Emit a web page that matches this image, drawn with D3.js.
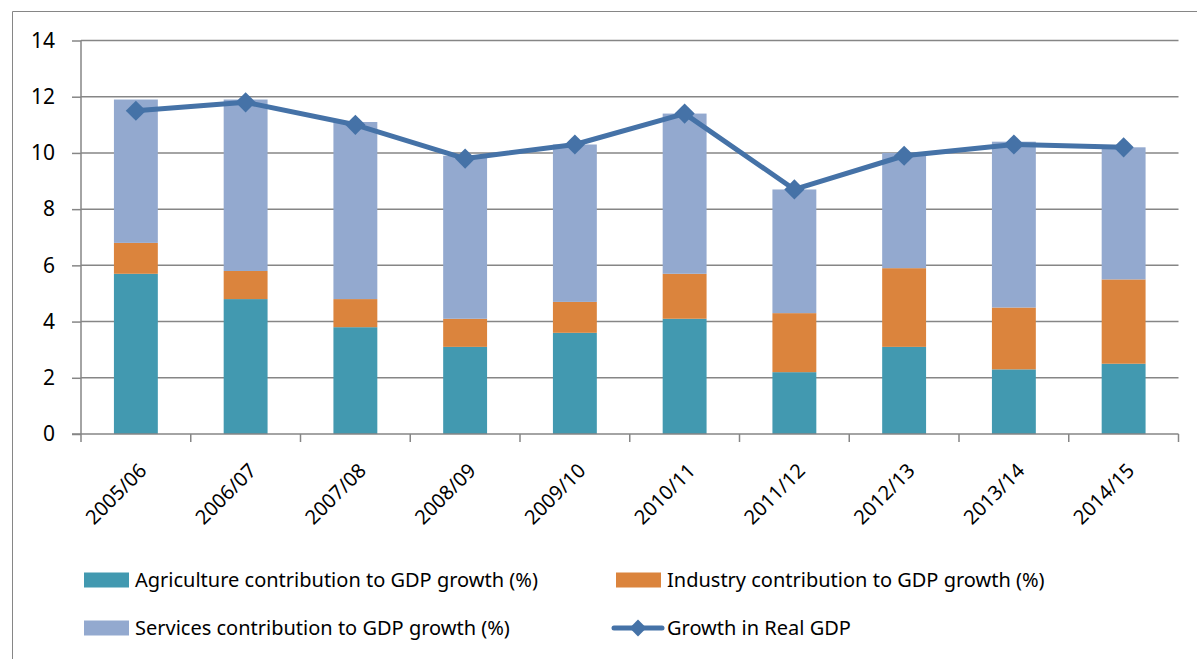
<!DOCTYPE html>
<html>
<head>
<meta charset="utf-8">
<script src="https://cdn.jsdelivr.net/npm/d3@7"></script>
<style>
  body { margin: 0; background: #fff; }
  svg { display: block; font-family: "Noto Sans", sans-serif; }
</style>
</head>
<body>
<script>
// values
var years = ["2005/06", "2006/07", "2007/08", "2008/09", "2009/10",
             "2010/11", "2011/12", "2012/13", "2013/14", "2014/15"];
var agriculture = [5.7, 4.8, 3.8, 3.1, 3.6, 4.1, 2.2, 3.1, 2.3, 2.5];
var industry    = [1.1, 1.0, 1.0, 1.0, 1.1, 1.6, 2.1, 2.8, 2.2, 3.0];
var services    = [5.1, 6.1, 6.3, 5.8, 5.6, 5.7, 4.4, 4.1, 5.9, 4.7];
var realGdp     = [11.5, 11.8, 11.0, 9.8, 10.3, 11.4, 8.7, 9.9, 10.3, 10.2];
var yTicks = [0, 2, 4, 6, 8, 10, 12, 14];

var seriesNames = ["Agriculture contribution to GDP growth (%)",
                   "Industry contribution to GDP growth (%)",
                   "Services contribution to GDP growth (%)",
                   "Growth in Real GDP"];
var colors = ["#4299B0", "#DB843D", "#93A9CF", "#4572A7"];

var W = 1197, H = 659;
var svg = d3.select("body").append("svg").attr("width", W).attr("height", H);

// outer chart border (cut off at right and bottom in the original)
svg.append("path")
    .attr("d", "M12.5," + H + "V11.5H" + W)
    .attr("fill", "none").attr("stroke", "#868686").attr("stroke-width", 1);

var margin = {left: 81, top: 40.5, right: 1178.5, bottom: 434};

var x = d3.scaleBand().domain(years).range([margin.left, margin.right]).paddingInner(0.6).paddingOuter(0.3);
var xBand = d3.scaleBand().domain(years).range([margin.left, margin.right]);
var y = d3.scaleLinear().domain([0, 14]).range([margin.bottom, margin.top]);

// gridlines
svg.append("g").selectAll("line").data(yTicks.filter(function(d) { return d > 0; })).enter()
  .append("line")
    .attr("x1", margin.left).attr("x2", margin.right)
    .attr("y1", function(d) { return y(d); }).attr("y2", function(d) { return y(d); })
    .attr("stroke", "#868686").attr("stroke-width", 1.5);

// stacked bars
var table = years.map(function(yr, i) {
  return {year: yr, agriculture: agriculture[i], industry: industry[i], services: services[i]};
});
var stack = d3.stack().keys(["agriculture", "industry", "services"])(table);

svg.append("g").selectAll("g").data(stack).enter()
  .append("g").attr("fill", function(d, i) { return colors[i]; })
  .selectAll("rect").data(function(d) { return d; }).enter()
  .append("rect")
    .attr("x", function(d) { return x(d.data.year); })
    .attr("width", x.bandwidth())
    .attr("y", function(d) { return y(d[1]); })
    .attr("height", function(d) { return y(d[0]) - y(d[1]); });

// y axis
var yAxis = svg.append("g")
    .attr("transform", "translate(" + margin.left + ",0)")
    .call(d3.axisLeft(y).tickValues(yTicks).tickSize(9).tickPadding(17).tickFormat(d3.format("d")));
yAxis.selectAll("line").attr("stroke", "#868686").attr("stroke-width", 1.5);
yAxis.select(".domain").attr("stroke", "#868686").attr("stroke-width", 1.5).attr("d", "M0," + margin.top + "V" + margin.bottom);
yAxis.selectAll("text").attr("font-size", 21).attr("fill", "#000").attr("font-family", "Noto Sans");

// x axis with ticks at band boundaries
var xAxis = svg.append("g").attr("transform", "translate(0," + margin.bottom + ")");
xAxis.append("line").attr("x1", margin.left - 9).attr("x2", margin.right)
    .attr("stroke", "#868686").attr("stroke-width", 1.5);
var edges = years.map(function(d) { return xBand(d); }).concat([margin.right]);
xAxis.selectAll(".tk").data(edges).enter().append("line")
    .attr("x1", function(d) { return d; }).attr("x2", function(d) { return d; })
    .attr("y1", 0).attr("y2", 8)
    .attr("stroke", "#868686").attr("stroke-width", 1.5);
xAxis.selectAll("text").data(years).enter().append("text")
    .attr("transform", function(d) {
      return "translate(" + (xBand(d) + xBand.bandwidth() / 2 + 12) + ",38) rotate(-45)";
    })
    .attr("text-anchor", "end")
    .attr("font-size", 20)
    .text(function(d) { return d; });

// real GDP line
var cx = function(d, i) { return xBand(years[i]) + xBand.bandwidth() / 2; };
var line = d3.line().x(cx).y(function(d) { return y(d); });
svg.append("path").datum(realGdp)
    .attr("d", line).attr("fill", "none")
    .attr("stroke", colors[3]).attr("stroke-width", 5).attr("stroke-linejoin", "round");

var diamond = d3.symbol().type(d3.symbolDiamond2).size(260);
svg.append("g").selectAll("path").data(realGdp).enter().append("path")
    .attr("d", diamond)
    .attr("transform", function(d, i) { return "translate(" + cx(d, i) + "," + y(d) + ")"; })
    .attr("fill", colors[3]);

// legend
var legendPos = [[84, 580], [616, 580], [84, 628], [616, 628]];
var legend = svg.append("g").selectAll("g").data(seriesNames).enter()
  .append("g").attr("transform", function(d, i) { return "translate(" + legendPos[i][0] + "," + legendPos[i][1] + ")"; });
legend.each(function(d, i) {
  var g = d3.select(this);
  if (i < 3) {
    g.append("rect").attr("x", 0).attr("y", -7.5).attr("width", 45).attr("height", 15).attr("fill", colors[i]);
  } else {
    g.append("line").attr("x1", -2).attr("x2", 46).attr("y1", 0).attr("y2", 0)
        .attr("stroke", colors[3]).attr("stroke-width", 5).attr("stroke-linecap", "round");
    g.append("path").attr("d", d3.symbol().type(d3.symbolDiamond2).size(180))
        .attr("transform", "translate(22,0)").attr("fill", colors[3]);
  }
  g.append("text").attr("x", 51).attr("y", 0).attr("dy", "0.35em")
      .attr("font-size", 20).text(d);
});
</script>
</body>
</html>
